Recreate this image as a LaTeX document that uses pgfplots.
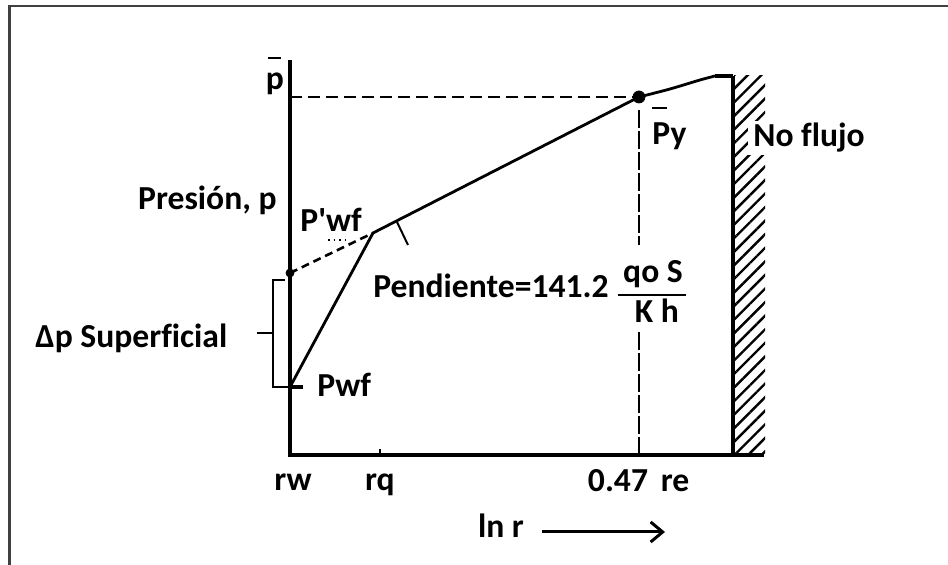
\documentclass[border=0pt]{standalone}
\usepackage{fontspec}
\setmainfont{Carlito}[Ligatures=CommonOff]
\usepackage{pgfplots}
\pgfplotsset{compat=1.18}
\usetikzlibrary{arrows.meta,patterns.meta}

\begin{document}
\begin{tikzpicture}[font=\fontsize{16.8}{19}\selectfont\bfseries]
\begin{axis}[
  scale only axis, width=236pt, height=196.5pt,
  xmin=0, xmax=472, ymin=0, ymax=393,
  axis x line=bottom, axis y line=left,
  axis line style={line width=2pt, line cap=rect},
  every outer x axis line/.append style={-},
  every outer y axis line/.append style={-},
  every inner x axis line/.append style={-},
  every inner y axis line/.append style={-},
  xtick=\empty, ytick=\empty,
  clip=false,
]
% outer frame
\draw[line width=1.4pt, black!75] (axis cs:-280.5,-120) -- (axis cs:-280.5,449) -- (axis cs:670,449);

% no-flow boundary
\fill[pattern={Lines[angle=45,distance=4.8pt,line width=1.2pt]}, pattern color=black]
  (axis cs:444,0) rectangle (axis cs:475,379);
\addplot[line width=2pt, black] coordinates {(443,0) (443,379)};

% average pressure level and 0.47 re
\addplot[line width=0.8pt, black, dash pattern=on 6pt off 3pt] coordinates {(0,358) (349,358)};
\addplot[line width=0.8pt, black, dash pattern=on 9pt off 1.5pt] coordinates {(349,345) (349,210)};
\addplot[line width=0.8pt, black, dash pattern=on 9pt off 1.5pt] coordinates {(349,123) (349,0)};

% pressure profile
\addplot[line width=1.4pt, black] coordinates {(0,68) (83,222) (349,358)};
\addplot[line width=1.4pt, black, smooth] coordinates {(349,358) (380,366) (410,375) (425,379)};
\addplot[line width=1.8pt, black] coordinates {(425,379) (443,379)};
% extrapolated profile without skin
\addplot[line width=1.3pt, black, dash pattern=on 4pt off 2.5pt] coordinates {(0,182) (83,222)};
\addplot[line width=0.8pt, black, dotted] coordinates {(38,215) (55,215)};
% slope mark
\addplot[line width=1pt, black] coordinates {(107,233) (118,210)};

\addplot[only marks, mark=*, mark size=3pt, black] coordinates {(349,358)};
\addplot[only marks, mark=*, mark size=2pt, black] coordinates {(0,182)};

% skin pressure drop bracket
\addplot[line width=1pt, black] coordinates {(-5,175) (-17,175) (-17,68) (0,68)};
\addplot[line width=1pt, black] coordinates {(-33,122) (-17,122)};
\addplot[line width=1.6pt, black] coordinates {(0,68) (13,68)};

% rq tick
\addplot[line width=1pt, black] coordinates {(90,0) (90,6)};

% labels
\node[anchor=base] at (axis cs:-15,365) {p};
\draw[line width=1pt] (axis cs:-22,397) -- (axis cs:-9,397);
\node[anchor=base east, inner sep=0pt] at (axis cs:-13,245) {Presión, p};
\node[anchor=base west, inner sep=0pt] at (axis cs:10,223) {P\textquotesingle wf};
\node[anchor=base west, inner sep=0pt] at (axis cs:83,157) {Pendiente=141.2};
\node[anchor=base] at (axis cs:363,172) {qo S};
\draw[line width=1pt] (axis cs:328,160) -- (axis cs:396,160);
\node[anchor=base] at (axis cs:367,132) {K h};
\node[anchor=base west, inner sep=0pt] at (axis cs:362,310) {Py};
\draw[line width=1pt] (axis cs:362,347) -- (axis cs:377,347);
\node[anchor=base west, fill=white, inner xsep=2.5pt, inner ysep=1pt] at (axis cs:458,308) {No flujo};
\node[anchor=base west, inner sep=0pt] at (axis cs:-255,107) {Δp Superficial};
\node[anchor=base west, inner sep=0pt] at (axis cs:27,58) {Pwf};
\node[anchor=base] at (axis cs:3,-36) {rw};
\node[anchor=base] at (axis cs:90,-36) {rq};
\node[anchor=base] at (axis cs:328,-37) {0.47};
\node[anchor=base] at (axis cs:385,-37) {re};
\node[anchor=base] at (axis cs:211,-83) {ln r};
\draw[line width=1.5pt, -{Straight Barb[length=6pt,width=10pt]}] (axis cs:252,-77) -- (axis cs:375,-77);

\coordinate (BL) at (axis cs:-290,-110);
\coordinate (TR) at (axis cs:658,455);
\end{axis}
\pgfresetboundingbox
\path[use as bounding box] (BL) rectangle (TR);
\end{tikzpicture}
\end{document}
